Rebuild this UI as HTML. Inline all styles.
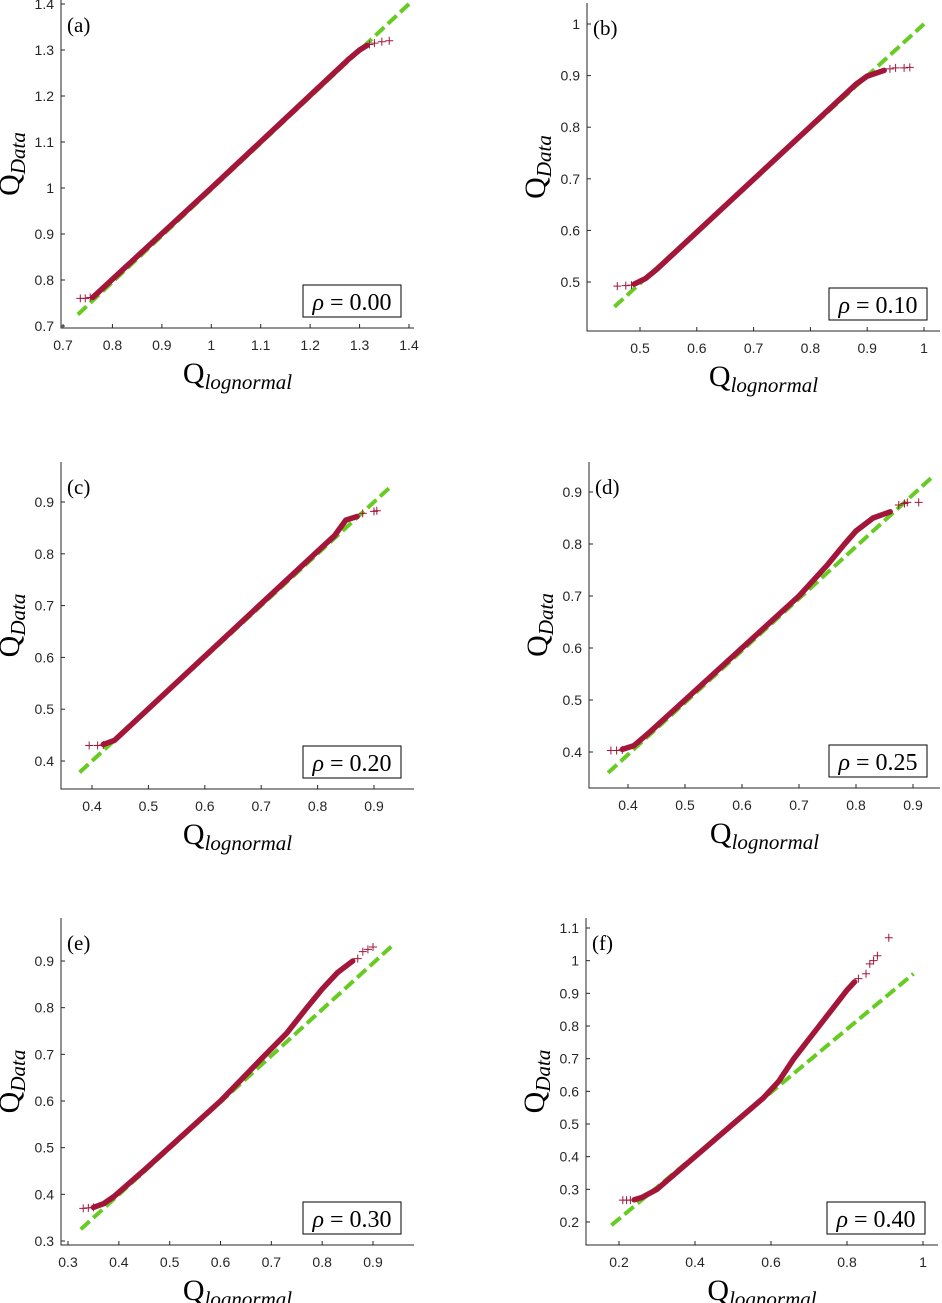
<!DOCTYPE html>
<html><head><meta charset="utf-8">
<style>
html,body{margin:0;padding:0;background:#fff;}
svg{display:block;}
.tk{font-family:"Liberation Sans",sans-serif;font-size:14px;fill:#262626;}
.sr{font-family:"Liberation Serif",serif;fill:#000;}
</style></head>
<body>
<svg id="s" width="942" height="1303" viewBox="0 0 942 1303" xmlns="http://www.w3.org/2000/svg"></svg>
<script>
var P=[
 {L:61,B:328,T:0,R:414,x0:0.7,px0:63,x1:1.4,px1:409,y0:0.7,py0:326,y1:1.4,py1:4,xt:[0.7,0.8,0.9,1,1.1,1.2,1.3,1.4],yt:[0.7,0.8,0.9,1,1.1,1.2,1.3,1.4],
  lab:"(a)",rho:"0.00",ln:[0.73,0.725,1.4,1.4],
  d:[[0.76,0.762],[1.0,1.0],[1.28,1.282],[1.3,1.3],[1.315,1.31]],pl:[[0.735,0.76],[0.745,0.76],[0.755,0.762],[1.32,1.312],[1.33,1.315],[1.345,1.318],[1.36,1.32]]},
 {L:587,B:331,T:3,R:940,x0:0.5,px0:640,x1:1,px1:924,y0:0.5,py0:282,y1:1,py1:24,xt:[0.5,0.6,0.7,0.8,0.9,1],yt:[0.5,0.6,0.7,0.8,0.9,1],
  lab:"(b)",rho:"0.10",ln:[0.455,0.452,1.0,1.0],
  d:[[0.49,0.496],[0.51,0.507],[0.53,0.525],[0.88,0.883],[0.9,0.899],[0.93,0.91]],pl:[[0.46,0.492],[0.475,0.493],[0.485,0.494],[0.94,0.913],[0.95,0.915],[0.965,0.915],[0.975,0.916]]},
 {L:61,B:789,T:462,R:414,x0:0.4,px0:92,x1:0.9,px1:374,y0:0.4,py0:761,y1:0.9,py1:502,xt:[0.4,0.5,0.6,0.7,0.8,0.9],yt:[0.4,0.5,0.6,0.7,0.8,0.9],
  lab:"(c)",rho:"0.20",ln:[0.378,0.378,0.93,0.93],
  d:[[0.42,0.432],[0.44,0.44],[0.8,0.805],[0.83,0.835],[0.85,0.865],[0.87,0.872]],pl:[[0.395,0.43],[0.41,0.43],[0.42,0.431],[0.88,0.878],[0.9,0.882],[0.905,0.883]]},
 {L:589,B:788,T:462,R:940,x0:0.4,px0:628,x1:0.9,px1:913,y0:0.4,py0:752,y1:0.9,py1:492,xt:[0.4,0.5,0.6,0.7,0.8,0.9],yt:[0.4,0.5,0.6,0.7,0.8,0.9],
  lab:"(d)",rho:"0.25",ln:[0.365,0.36,0.935,0.93],
  d:[[0.39,0.405],[0.41,0.412],[0.44,0.44],[0.5,0.5],[0.7,0.7],[0.75,0.76],[0.78,0.8],[0.8,0.825],[0.83,0.85],[0.86,0.862]],pl:[[0.37,0.403],[0.38,0.403],[0.39,0.404],[0.875,0.875],[0.885,0.878],[0.89,0.88],[0.91,0.88]]},
 {L:61,B:1245,T:918,R:414,x0:0.3,px0:68,x1:0.9,px1:373,y0:0.3,py0:1241,y1:0.9,py1:961,xt:[0.3,0.4,0.5,0.6,0.7,0.8,0.9],yt:[0.3,0.4,0.5,0.6,0.7,0.8,0.9],
  lab:"(e)",rho:"0.30",ln:[0.325,0.325,0.94,0.935],
  d:[[0.35,0.372],[0.37,0.38],[0.39,0.395],[0.45,0.452],[0.6,0.6],[0.68,0.69],[0.73,0.745],[0.77,0.8],[0.8,0.84],[0.83,0.875],[0.86,0.9]],pl:[[0.33,0.37],[0.34,0.371],[0.35,0.372],[0.87,0.905],[0.88,0.92],[0.89,0.925],[0.9,0.93]]},
 {L:586,B:1245,T:918,R:938,x0:0.2,px0:619,x1:1,px1:923,y0:0.2,py0:1222,y1:1.1,py1:928,xt:[0.2,0.4,0.6,0.8,1],yt:[0.2,0.3,0.4,0.5,0.6,0.7,0.8,0.9,1,1.1],
  lab:"(f)",rho:"0.40",ln:[0.18,0.19,0.975,0.96],
  d:[[0.24,0.268],[0.26,0.275],[0.3,0.3],[0.4,0.4],[0.5,0.5],[0.58,0.58],[0.62,0.63],[0.66,0.7],[0.7,0.76],[0.74,0.82],[0.78,0.88],[0.8,0.91],[0.82,0.935]],pl:[[0.21,0.267],[0.22,0.267],[0.23,0.267],[0.83,0.945],[0.85,0.96],[0.86,0.99],[0.87,1.0],[0.88,1.015],[0.91,1.07]]}
];
var h='';
function fx(p,v){return p.px0+(v-p.x0)*(p.px1-p.px0)/(p.x1-p.x0);}
function fy(p,v){return p.py0+(v-p.y0)*(p.py1-p.py0)/(p.y1-p.y0);}
P.forEach(function(p){
 h+='<path d="M'+p.L+' '+p.T+'V'+p.B+'H'+p.R+'" fill="none" stroke="#262626" stroke-width="1"/>';
 p.xt.forEach(function(t){var x=fx(p,t);h+='<line x1="'+x+'" y1="'+p.B+'" x2="'+x+'" y2="'+(p.B-4)+'" stroke="#262626"/>';
  h+='<text class="tk" x="'+x+'" y="'+(p.B+22)+'" text-anchor="middle">'+t+'</text>';});
 p.yt.forEach(function(t){var y=fy(p,t);h+='<line x1="'+p.L+'" y1="'+y+'" x2="'+(p.L+4)+'" y2="'+y+'" stroke="#262626"/>';
  h+='<text class="tk" x="'+(p.L-7)+'" y="'+(y+5)+'" text-anchor="end">'+t+'</text>';});
 h+='<line x1="'+fx(p,p.ln[0])+'" y1="'+fy(p,p.ln[1])+'" x2="'+fx(p,p.ln[2])+'" y2="'+fy(p,p.ln[3])+'" stroke="#66cc22" stroke-width="4" stroke-dasharray="12 5"/>';
 var s='';p.d.forEach(function(q,i){s+=(i?'L':'M')+fx(p,q[0]).toFixed(1)+' '+fy(p,q[1]).toFixed(1);});
 h+='<path d="'+s+'" fill="none" stroke="#a3163a" stroke-width="5.5" stroke-linecap="round" stroke-linejoin="round"/>';
 p.pl.forEach(function(q){var x=fx(p,q[0]),y=fy(p,q[1]);h+='<path d="M'+(x-4)+' '+y+'H'+(x+4)+'M'+x+' '+(y-4)+'V'+(y+4)+'" stroke="#a3163a" stroke-width="1"/>';});
 h+='<text class="sr" x="'+(p.L+6)+'" y="'+(p.T+32)+'" font-size="21">'+p.lab+'</text>';
 var bx=p.R-111,by=p.B-43;
 h+='<rect x="'+bx+'" y="'+by+'" width="98" height="32" fill="#fff" stroke="#000" stroke-width="1"/>';
 h+='<text class="sr" x="'+(bx+49)+'" y="'+(by+25)+'" font-size="24" text-anchor="middle"><tspan font-style="italic">ρ</tspan> = 0.'+p.rho.slice(2)+'</text>';
 var cx=p.L-42,cy=(p.T+p.B)/2;
 h+='<text class="sr" transform="translate('+cx+' '+cy+') rotate(-90)" text-anchor="middle" font-size="30">Q<tspan font-style="italic" font-size="21" dy="6">Data</tspan></text>';
 var mx=(p.L+p.R)/2;
 h+='<text class="sr" x="'+mx+'" y="'+(p.B+55)+'" text-anchor="middle" font-size="30">Q<tspan font-style="italic" font-size="21" dy="6">lognormal</tspan></text>';
});
document.getElementById('s').innerHTML=h;
</script>
</body></html>
